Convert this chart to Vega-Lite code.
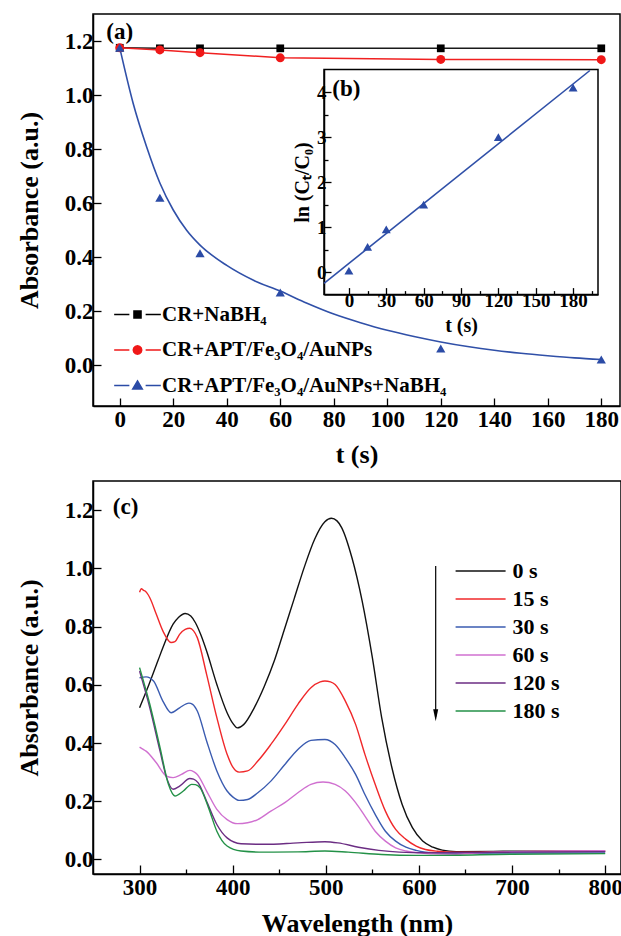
{
  "$schema": "https://vega.github.io/schema/vega-lite/v6.json",
  "padding": {"left": 15, "top": 13, "right": 0, "bottom": 0},
  "background": "white",
  "bounds": "flush",
  "spacing": 75,
  "resolve": {"legend": {"color": "independent", "fill": "independent", "stroke": "independent", "shape": "independent"}},
  "datasets": {
    "pointsA": [
      {"t": 0, "a": 1.175, "s": "k"}, {"t": 15, "a": 1.173, "s": "k"}, {"t": 30, "a": 1.173, "s": "k"}, {"t": 60, "a": 1.173, "s": "k"}, {"t": 120, "a": 1.173, "s": "k"}, {"t": 180, "a": 1.173, "s": "k"},
      {"t": 0, "a": 1.175, "s": "r"}, {"t": 15, "a": 1.167, "s": "r"}, {"t": 30, "a": 1.157, "s": "r"}, {"t": 60, "a": 1.138, "s": "r"}, {"t": 120, "a": 1.132, "s": "r"}, {"t": 180, "a": 1.131, "s": "r"},
      {"t": 0, "a": 1.175, "s": "b"}, {"t": 15, "a": 0.62, "s": "b"}, {"t": 30, "a": 0.415, "s": "b"}, {"t": 60, "a": 0.27, "s": "b"}, {"t": 120, "a": 0.063, "s": "b"}, {"t": 180, "a": 0.022, "s": "b"}
    ],
    "fitA": [
      {"t": 0, "a": 1.175}, {"t": 5, "a": 0.97}, {"t": 10, "a": 0.81}, {"t": 15, "a": 0.675}, {"t": 20, "a": 0.575}, {"t": 25, "a": 0.5}, {"t": 30, "a": 0.445}, {"t": 40, "a": 0.37}, {"t": 50, "a": 0.315}, {"t": 60, "a": 0.275}, {"t": 70, "a": 0.23}, {"t": 80, "a": 0.19}, {"t": 90, "a": 0.158}, {"t": 100, "a": 0.13}, {"t": 110, "a": 0.107}, {"t": 120, "a": 0.087}, {"t": 130, "a": 0.07}, {"t": 140, "a": 0.056}, {"t": 150, "a": 0.045}, {"t": 160, "a": 0.036}, {"t": 170, "a": 0.028}, {"t": 180, "a": 0.022}
    ],
    "insetPts": [
      {"t": 0, "l": 0.03}, {"t": 15, "l": 0.56}, {"t": 30, "l": 0.95}, {"t": 60, "l": 1.5}, {"t": 120, "l": 3.0}, {"t": 180, "l": 4.1}
    ],
    "insetFit": [
      {"t": -20, "l": -0.25}, {"t": 193.5, "l": 4.48}
    ],
    "spectra": [
      {"wl": 300, "a": 0.521, "time": "0 s"}, {"wl": 310, "a": 0.6, "time": "0 s"}, {"wl": 320, "a": 0.685, "time": "0 s"}, {"wl": 325, "a": 0.727, "time": "0 s"}, {"wl": 336, "a": 0.808, "time": "0 s"}, {"wl": 342, "a": 0.832, "time": "0 s"}, {"wl": 349, "a": 0.845, "time": "0 s"}, {"wl": 355, "a": 0.836, "time": "0 s"}, {"wl": 360, "a": 0.813, "time": "0 s"}, {"wl": 366, "a": 0.77, "time": "0 s"}, {"wl": 372, "a": 0.716, "time": "0 s"}, {"wl": 383, "a": 0.601, "time": "0 s"}, {"wl": 394, "a": 0.504, "time": "0 s"}, {"wl": 400, "a": 0.468, "time": "0 s"}, {"wl": 405, "a": 0.452, "time": "0 s"}, {"wl": 412, "a": 0.464, "time": "0 s"}, {"wl": 423, "a": 0.52, "time": "0 s"}, {"wl": 434, "a": 0.595, "time": "0 s"}, {"wl": 445, "a": 0.685, "time": "0 s"}, {"wl": 455, "a": 0.785, "time": "0 s"}, {"wl": 466, "a": 0.895, "time": "0 s"}, {"wl": 477, "a": 1.005, "time": "0 s"}, {"wl": 488, "a": 1.1, "time": "0 s"}, {"wl": 499, "a": 1.16, "time": "0 s"}, {"wl": 506, "a": 1.172, "time": "0 s"}, {"wl": 512, "a": 1.163, "time": "0 s"}, {"wl": 517, "a": 1.14, "time": "0 s"}, {"wl": 528, "a": 1.037, "time": "0 s"}, {"wl": 539, "a": 0.888, "time": "0 s"}, {"wl": 550, "a": 0.693, "time": "0 s"}, {"wl": 560, "a": 0.487, "time": "0 s"}, {"wl": 571, "a": 0.315, "time": "0 s"}, {"wl": 582, "a": 0.189, "time": "0 s"}, {"wl": 593, "a": 0.109, "time": "0 s"}, {"wl": 604, "a": 0.063, "time": "0 s"}, {"wl": 615, "a": 0.042, "time": "0 s"}, {"wl": 625, "a": 0.032, "time": "0 s"}, {"wl": 640, "a": 0.027, "time": "0 s"}, {"wl": 700, "a": 0.028, "time": "0 s"}, {"wl": 800, "a": 0.028, "time": "0 s"},
      {"wl": 300, "a": 0.918, "time": "15 s"}, {"wl": 302, "a": 0.93, "time": "15 s"}, {"wl": 304, "a": 0.925, "time": "15 s"}, {"wl": 306, "a": 0.922, "time": "15 s"}, {"wl": 311, "a": 0.899, "time": "15 s"}, {"wl": 318, "a": 0.842, "time": "15 s"}, {"wl": 325, "a": 0.785, "time": "15 s"}, {"wl": 334, "a": 0.745, "time": "15 s"}, {"wl": 338, "a": 0.748, "time": "15 s"}, {"wl": 343, "a": 0.773, "time": "15 s"}, {"wl": 349, "a": 0.79, "time": "15 s"}, {"wl": 354, "a": 0.794, "time": "15 s"}, {"wl": 358, "a": 0.785, "time": "15 s"}, {"wl": 362, "a": 0.762, "time": "15 s"}, {"wl": 372, "a": 0.636, "time": "15 s"}, {"wl": 383, "a": 0.487, "time": "15 s"}, {"wl": 394, "a": 0.361, "time": "15 s"}, {"wl": 400, "a": 0.318, "time": "15 s"}, {"wl": 407, "a": 0.3, "time": "15 s"}, {"wl": 416, "a": 0.304, "time": "15 s"}, {"wl": 427, "a": 0.338, "time": "15 s"}, {"wl": 441, "a": 0.395, "time": "15 s"}, {"wl": 456, "a": 0.464, "time": "15 s"}, {"wl": 470, "a": 0.533, "time": "15 s"}, {"wl": 484, "a": 0.59, "time": "15 s"}, {"wl": 494, "a": 0.61, "time": "15 s"}, {"wl": 499, "a": 0.613, "time": "15 s"}, {"wl": 505, "a": 0.61, "time": "15 s"}, {"wl": 510, "a": 0.601, "time": "15 s"}, {"wl": 521, "a": 0.544, "time": "15 s"}, {"wl": 532, "a": 0.464, "time": "15 s"}, {"wl": 542, "a": 0.361, "time": "15 s"}, {"wl": 553, "a": 0.258, "time": "15 s"}, {"wl": 564, "a": 0.166, "time": "15 s"}, {"wl": 575, "a": 0.103, "time": "15 s"}, {"wl": 586, "a": 0.069, "time": "15 s"}, {"wl": 597, "a": 0.046, "time": "15 s"}, {"wl": 607, "a": 0.034, "time": "15 s"}, {"wl": 620, "a": 0.028, "time": "15 s"}, {"wl": 640, "a": 0.025, "time": "15 s"}, {"wl": 700, "a": 0.027, "time": "15 s"}, {"wl": 800, "a": 0.028, "time": "15 s"},
      {"wl": 300, "a": 0.624, "time": "30 s"}, {"wl": 307, "a": 0.627, "time": "30 s"}, {"wl": 315, "a": 0.613, "time": "30 s"}, {"wl": 325, "a": 0.544, "time": "30 s"}, {"wl": 334, "a": 0.504, "time": "30 s"}, {"wl": 343, "a": 0.521, "time": "30 s"}, {"wl": 353, "a": 0.537, "time": "30 s"}, {"wl": 357, "a": 0.533, "time": "30 s"}, {"wl": 362, "a": 0.51, "time": "30 s"}, {"wl": 372, "a": 0.407, "time": "30 s"}, {"wl": 383, "a": 0.304, "time": "30 s"}, {"wl": 394, "a": 0.235, "time": "30 s"}, {"wl": 400, "a": 0.215, "time": "30 s"}, {"wl": 407, "a": 0.203, "time": "30 s"}, {"wl": 416, "a": 0.206, "time": "30 s"}, {"wl": 427, "a": 0.229, "time": "30 s"}, {"wl": 441, "a": 0.269, "time": "30 s"}, {"wl": 456, "a": 0.326, "time": "30 s"}, {"wl": 470, "a": 0.378, "time": "30 s"}, {"wl": 484, "a": 0.409, "time": "30 s"}, {"wl": 499, "a": 0.412, "time": "30 s"}, {"wl": 510, "a": 0.395, "time": "30 s"}, {"wl": 521, "a": 0.349, "time": "30 s"}, {"wl": 532, "a": 0.292, "time": "30 s"}, {"wl": 542, "a": 0.223, "time": "30 s"}, {"wl": 553, "a": 0.155, "time": "30 s"}, {"wl": 564, "a": 0.097, "time": "30 s"}, {"wl": 575, "a": 0.063, "time": "30 s"}, {"wl": 586, "a": 0.042, "time": "30 s"}, {"wl": 597, "a": 0.031, "time": "30 s"}, {"wl": 607, "a": 0.025, "time": "30 s"}, {"wl": 620, "a": 0.022, "time": "30 s"}, {"wl": 650, "a": 0.021, "time": "30 s"}, {"wl": 700, "a": 0.022, "time": "30 s"}, {"wl": 800, "a": 0.022, "time": "30 s"},
      {"wl": 300, "a": 0.386, "time": "60 s"}, {"wl": 303, "a": 0.38, "time": "60 s"}, {"wl": 307, "a": 0.372, "time": "60 s"}, {"wl": 318, "a": 0.332, "time": "60 s"}, {"wl": 329, "a": 0.286, "time": "60 s"}, {"wl": 336, "a": 0.281, "time": "60 s"}, {"wl": 345, "a": 0.292, "time": "60 s"}, {"wl": 354, "a": 0.306, "time": "60 s"}, {"wl": 358, "a": 0.302, "time": "60 s"}, {"wl": 362, "a": 0.292, "time": "60 s"}, {"wl": 372, "a": 0.235, "time": "60 s"}, {"wl": 383, "a": 0.172, "time": "60 s"}, {"wl": 394, "a": 0.137, "time": "60 s"}, {"wl": 405, "a": 0.123, "time": "60 s"}, {"wl": 416, "a": 0.126, "time": "60 s"}, {"wl": 427, "a": 0.137, "time": "60 s"}, {"wl": 441, "a": 0.166, "time": "60 s"}, {"wl": 456, "a": 0.195, "time": "60 s"}, {"wl": 470, "a": 0.229, "time": "60 s"}, {"wl": 484, "a": 0.258, "time": "60 s"}, {"wl": 497, "a": 0.266, "time": "60 s"}, {"wl": 510, "a": 0.258, "time": "60 s"}, {"wl": 521, "a": 0.235, "time": "60 s"}, {"wl": 532, "a": 0.195, "time": "60 s"}, {"wl": 542, "a": 0.149, "time": "60 s"}, {"wl": 553, "a": 0.097, "time": "60 s"}, {"wl": 564, "a": 0.063, "time": "60 s"}, {"wl": 575, "a": 0.04, "time": "60 s"}, {"wl": 586, "a": 0.029, "time": "60 s"}, {"wl": 600, "a": 0.023, "time": "60 s"}, {"wl": 615, "a": 0.019, "time": "60 s"}, {"wl": 640, "a": 0.018, "time": "60 s"}, {"wl": 660, "a": 0.022, "time": "60 s"}, {"wl": 700, "a": 0.027, "time": "60 s"}, {"wl": 750, "a": 0.029, "time": "60 s"}, {"wl": 800, "a": 0.03, "time": "60 s"},
      {"wl": 300, "a": 0.647, "time": "120 s"}, {"wl": 311, "a": 0.521, "time": "120 s"}, {"wl": 322, "a": 0.372, "time": "120 s"}, {"wl": 329, "a": 0.281, "time": "120 s"}, {"wl": 336, "a": 0.241, "time": "120 s"}, {"wl": 343, "a": 0.252, "time": "120 s"}, {"wl": 354, "a": 0.278, "time": "120 s"}, {"wl": 358, "a": 0.276, "time": "120 s"}, {"wl": 363, "a": 0.263, "time": "120 s"}, {"wl": 372, "a": 0.2, "time": "120 s"}, {"wl": 383, "a": 0.12, "time": "120 s"}, {"wl": 394, "a": 0.074, "time": "120 s"}, {"wl": 409, "a": 0.054, "time": "120 s"}, {"wl": 434, "a": 0.052, "time": "120 s"}, {"wl": 470, "a": 0.057, "time": "120 s"}, {"wl": 499, "a": 0.061, "time": "120 s"}, {"wl": 513, "a": 0.057, "time": "120 s"}, {"wl": 535, "a": 0.042, "time": "120 s"}, {"wl": 557, "a": 0.031, "time": "120 s"}, {"wl": 579, "a": 0.025, "time": "120 s"}, {"wl": 607, "a": 0.023, "time": "120 s"}, {"wl": 650, "a": 0.024, "time": "120 s"}, {"wl": 700, "a": 0.025, "time": "120 s"}, {"wl": 800, "a": 0.027, "time": "120 s"},
      {"wl": 300, "a": 0.659, "time": "180 s"}, {"wl": 311, "a": 0.533, "time": "180 s"}, {"wl": 322, "a": 0.384, "time": "180 s"}, {"wl": 331, "a": 0.258, "time": "180 s"}, {"wl": 338, "a": 0.218, "time": "180 s"}, {"wl": 347, "a": 0.235, "time": "180 s"}, {"wl": 356, "a": 0.258, "time": "180 s"}, {"wl": 360, "a": 0.257, "time": "180 s"}, {"wl": 365, "a": 0.246, "time": "180 s"}, {"wl": 374, "a": 0.178, "time": "180 s"}, {"wl": 383, "a": 0.097, "time": "180 s"}, {"wl": 394, "a": 0.046, "time": "180 s"}, {"wl": 409, "a": 0.029, "time": "180 s"}, {"wl": 434, "a": 0.025, "time": "180 s"}, {"wl": 470, "a": 0.026, "time": "180 s"}, {"wl": 499, "a": 0.029, "time": "180 s"}, {"wl": 524, "a": 0.025, "time": "180 s"}, {"wl": 560, "a": 0.017, "time": "180 s"}, {"wl": 597, "a": 0.014, "time": "180 s"}, {"wl": 615, "a": 0.014, "time": "180 s"}, {"wl": 700, "a": 0.018, "time": "180 s"}, {"wl": 800, "a": 0.02, "time": "180 s"}
    ]
  },
  "vconcat": [
    {
      "width": 527,
      "height": 392,
      "layer": [
        {
          "layer": [
            {
              "data": {"name": "pointsA"},
              "transform": [{"filter": "datum.s === 'k'"}],
              "mark": {"type": "line", "color": "#1a1a1a", "strokeWidth": 1.5},
              "encoding": {
                "x": {"field": "t", "type": "quantitative", "scale": {"domain": [-10, 187], "nice": false, "zero": false},
                  "axis": {"orient": "bottom", "values": [0, 10, 20, 30, 40, 50, 60, 70, 80, 90, 100, 110, 120, 130, 140, 150, 160, 170, 180],
                    "labelExpr": "datum.value % 20 === 0 ? datum.label : ''", "labelOverlap": false,
                    "tickSize": {"condition": {"test": "datum.value % 20 === 0", "value": -8}, "value": -5},
                    "labelPadding": 10, "title": "t (s)", "titlePadding": 10}},
                "y": {"field": "a", "type": "quantitative", "scale": {"domain": [-0.15, 1.3], "nice": false, "zero": false},
                  "axis": {"orient": "left", "values": [0, 0.1, 0.2, 0.3, 0.4, 0.5, 0.6, 0.7, 0.8, 0.9, 1.0, 1.1, 1.2],
                    "labelExpr": "round(datum.value * 10) % 2 === 0 ? format(datum.value, '.1f') : ''", "labelOverlap": false,
                    "tickSize": {"condition": {"test": "round(datum.value * 10) % 2 === 0", "value": -8}, "value": -5},
                    "labelPadding": 8, "title": "Absorbance (a.u.)", "titlePadding": 22}}
              }
            },
            {
              "data": {"name": "pointsA"},
              "transform": [{"filter": "datum.s === 'r'"}],
              "mark": {"type": "line", "color": "#f02020", "strokeWidth": 1.5},
              "encoding": {"x": {"field": "t", "type": "quantitative"}, "y": {"field": "a", "type": "quantitative"}}
            },
            {
              "data": {"name": "fitA"},
              "mark": {"type": "line", "color": "#3050a8", "strokeWidth": 1.6, "interpolate": "monotone"},
              "encoding": {"x": {"field": "t", "type": "quantitative"}, "y": {"field": "a", "type": "quantitative"}}
            },
            {
              "data": {"name": "pointsA"},
              "transform": [{"filter": "datum.s === 'k'"}],
              "mark": {"type": "point", "shape": "square", "filled": true, "color": "#000000", "size": 60, "opacity": 1},
              "encoding": {"x": {"field": "t", "type": "quantitative"}, "y": {"field": "a", "type": "quantitative"}}
            },
            {
              "data": {"name": "pointsA"},
              "transform": [{"filter": "datum.s === 'r'"}],
              "mark": {"type": "point", "shape": "circle", "filled": true, "color": "#f01818", "size": 80, "opacity": 1},
              "encoding": {"x": {"field": "t", "type": "quantitative"}, "y": {"field": "a", "type": "quantitative"}}
            },
            {
              "data": {"name": "pointsA"},
              "transform": [{"filter": "datum.s === 'b'"}],
              "mark": {"type": "point", "shape": "triangle-up", "filled": true, "color": "#2b4ba6", "size": 85, "opacity": 1},
              "encoding": {"x": {"field": "t", "type": "quantitative"}, "y": {"field": "a", "type": "quantitative"}}
            },
            {
              "data": {"name": "pointsA"},
              "transform": [{"filter": "false"}],
              "mark": {"type": "point", "filled": true, "opacity": 1},
              "encoding": {
                "x": {"field": "t", "type": "quantitative"},
                "y": {"field": "a", "type": "quantitative"},
                "fill": {"field": "s", "type": "nominal",
                  "scale": {"domain": ["CR+NaBH₄", "CR+APT/Fe₃O₄/AuNPs", "CR+APT/Fe₃O₄/AuNPs+NaBH₄"], "range": ["#000000", "#f01818", "#2b4ba6"]},
                  "legend": {"orient": "none", "legendX": 34, "legendY": 290, "title": null, "symbolSize": 50, "symbolStrokeWidth": 1.5, "labelFontSize": 21, "labelOffset": 14, "rowPadding": 13.5, "padding": 0}},
                "stroke": {"field": "s", "type": "nominal",
                  "scale": {"domain": ["CR+NaBH₄", "CR+APT/Fe₃O₄/AuNPs", "CR+APT/Fe₃O₄/AuNPs+NaBH₄"], "range": ["#000000", "#f01818", "#2b4ba6"]},
                  "legend": {"orient": "none", "legendX": 34, "legendY": 290, "title": null, "symbolSize": 50, "symbolStrokeWidth": 1.5, "labelFontSize": 21, "labelOffset": 14, "rowPadding": 13.5, "padding": 0}},
                "shape": {"field": "s", "type": "nominal",
                  "scale": {"domain": ["CR+NaBH₄", "CR+APT/Fe₃O₄/AuNPs", "CR+APT/Fe₃O₄/AuNPs+NaBH₄"],
                    "range": ["M-6.6,0L-2.3,0M2.3,0L6.6,0M-1,-1L1,-1L1,1L-1,1Z",
                              "M-6.6,0L-2.3,0M2.3,0L6.6,0M1.2,0L1.04,0.6L0.6,1.04L0,1.2L-0.6,1.04L-1.04,0.6L-1.2,0L-1.04,-0.6L-0.6,-1.04L0,-1.2L0.6,-1.04L1.04,-0.6Z",
                              "M-6.6,0L-2.3,0M2.3,0L6.6,0M0,-1.3L1.35,1L-1.35,1Z"]},
                  "legend": {"orient": "none", "legendX": 34, "legendY": 290, "title": null, "symbolSize": 50, "symbolStrokeWidth": 1.5, "labelFontSize": 21, "labelOffset": 14, "rowPadding": 13.5, "padding": 0}}
              }
            },
            {
              "data": {"values": [{"t": 0, "a": 1.235, "lab": "(a)"}]},
              "mark": {"type": "text", "font": "Liberation Serif", "fontWeight": "bold", "fontSize": 23, "align": "center", "baseline": "middle", "color": "#000000"},
              "encoding": {"x": {"field": "t", "type": "quantitative"}, "y": {"field": "a", "type": "quantitative"}, "text": {"field": "lab"}}
            }
          ]
        },
        {
          "layer": [
            {
              "data": {"values": [{"t1": -20, "t2": 200, "l1": -0.5, "l2": 4.5}]},
              "mark": {"type": "rect", "fill": "transparent", "stroke": "#000000", "strokeWidth": 1.5},
              "encoding": {
                "x": {"field": "t1", "type": "quantitative", "scale": {"domain": [-20, 200], "range": [231, 505], "nice": false, "zero": false},
                  "axis": {"orient": "bottom", "offset": -111.4, "values": [0, 15, 30, 45, 60, 75, 90, 105, 120, 135, 150, 165, 180, 195],
                    "labelExpr": "datum.value % 30 === 0 ? format(datum.value, 'd') : ''", "labelOverlap": false,
                    "tickSize": {"condition": {"test": "datum.value % 30 === 0", "value": -7}, "value": -4},
                    "labelFontSize": 19, "labelPadding": 4, "title": "t (s)", "titleFontSize": 20, "titlePadding": 2}},
                "x2": {"field": "t2"},
                "y": {"field": "l1", "type": "quantitative", "scale": {"domain": [-0.5, 4.5], "range": [280.6, 55.6], "nice": false, "zero": false},
                  "axis": {"orient": "left", "offset": -231, "values": [0, 0.5, 1, 1.5, 2, 2.5, 3, 3.5, 4],
                    "labelExpr": "datum.value % 1 === 0 ? format(datum.value, 'd') : ''", "labelOverlap": false,
                    "tickSize": {"condition": {"test": "datum.value % 1 === 0", "value": -7}, "value": -4},
                    "labelFontSize": 19, "labelPadding": 5, "title": "ln (Cₜ/C₀)", "titleFontSize": 20, "titlePadding": 4}},
                "y2": {"field": "l2"}
              }
            },
            {
              "data": {"name": "insetFit"},
              "mark": {"type": "line", "color": "#3050a8", "strokeWidth": 1.6},
              "encoding": {"x": {"field": "t", "type": "quantitative"}, "y": {"field": "l", "type": "quantitative"}}
            },
            {
              "data": {"name": "insetPts"},
              "mark": {"type": "point", "shape": "triangle-up", "filled": true, "color": "#2b4ba6", "size": 80, "opacity": 1},
              "encoding": {"x": {"field": "t", "type": "quantitative"}, "y": {"field": "l", "type": "quantitative"}}
            },
            {
              "data": {"values": [{"t": -2, "l": 4.06, "lab": "(b)"}]},
              "mark": {"type": "text", "font": "Liberation Serif", "fontWeight": "bold", "fontSize": 23, "align": "center", "baseline": "middle", "color": "#000000"},
              "encoding": {"x": {"field": "t", "type": "quantitative"}, "y": {"field": "l", "type": "quantitative"}, "text": {"field": "lab"}}
            }
          ]
        }
      ],
      "resolve": {"scale": {"x": "independent", "y": "independent"}, "axis": {"x": "independent", "y": "independent"}}
    },
    {
      "width": 528,
      "height": 393,
      "layer": [
        {
          "data": {"name": "spectra"},
          "mark": {"type": "line", "strokeWidth": 1.4, "interpolate": "monotone"},
          "encoding": {
            "x": {"field": "wl", "type": "quantitative", "scale": {"domain": [250, 817], "nice": false, "zero": false},
              "axis": {"orient": "bottom", "values": [300, 350, 400, 450, 500, 550, 600, 650, 700, 750, 800],
                "labelExpr": "datum.value % 100 === 0 ? datum.label : ''", "labelOverlap": false,
                "tickSize": {"condition": {"test": "datum.value % 100 === 0", "value": -9}, "value": -5},
                "labelPadding": 11, "title": "Wavelength (nm)", "titlePadding": 7}},
            "y": {"field": "a", "type": "quantitative", "scale": {"domain": [-0.05, 1.3], "nice": false, "zero": false},
              "axis": {"orient": "left", "values": [0, 0.1, 0.2, 0.3, 0.4, 0.5, 0.6, 0.7, 0.8, 0.9, 1.0, 1.1, 1.2],
                "labelExpr": "round(datum.value * 10) % 2 === 0 ? format(datum.value, '.1f') : ''", "labelOverlap": false,
                "tickSize": {"condition": {"test": "round(datum.value * 10) % 2 === 0", "value": -8}, "value": -5},
                "labelPadding": 8, "title": "Absorbance (a.u.)", "titlePadding": 22}},
            "color": {"field": "time", "type": "nominal",
              "scale": {"domain": ["0 s", "15 s", "30 s", "60 s", "120 s", "180 s"], "range": ["#111111", "#f0282a", "#3a5bb0", "#d070d0", "#6b2d83", "#239147"]},
              "legend": {"orient": "none", "legendX": 361.6, "legendY": 79, "title": null, "symbolType": "stroke", "symbolSize": 2500, "symbolStrokeWidth": 1.5, "labelFontSize": 22, "labelOffset": 6, "rowPadding": 6, "clipHeight": 22, "padding": 0}}
          }
        },
        {
          "data": {"values": [{"wl": 618, "a1": 1.008, "a2": 0.49}]},
          "mark": {"type": "rule", "color": "#000000", "strokeWidth": 1.2},
          "encoding": {"x": {"field": "wl", "type": "quantitative"}, "y": {"field": "a1", "type": "quantitative"}, "y2": {"field": "a2"}}
        },
        {
          "data": {"values": [{"wl": 618, "a": 0.475}]},
          "mark": {"type": "point", "shape": "M-1,-4.8L1,-4.8L0,0Z", "filled": true, "color": "#000000", "size": 25, "opacity": 1},
          "encoding": {"x": {"field": "wl", "type": "quantitative"}, "y": {"field": "a", "type": "quantitative"}}
        },
        {
          "data": {"values": [{"wl": 285, "a": 1.21, "lab": "(c)"}]},
          "mark": {"type": "text", "font": "Liberation Serif", "fontWeight": "bold", "fontSize": 23, "align": "center", "baseline": "middle", "color": "#000000"},
          "encoding": {"x": {"field": "wl", "type": "quantitative"}, "y": {"field": "a", "type": "quantitative"}, "text": {"field": "lab"}}
        }
      ]
    }
  ],
  "config": {
    "font": "Liberation Serif",
    "view": {"stroke": "#000000", "strokeWidth": 1.5},
    "axis": {
      "grid": false,
      "domainColor": "#000000", "domainWidth": 1.5,
      "tickColor": "#000000", "tickWidth": 1.3,
      "labelFont": "Liberation Serif", "labelFontWeight": "bold", "labelFontSize": 23, "labelColor": "#000000",
      "labelOverlap": false, "labelFlush": false,
      "titleFont": "Liberation Serif", "titleFontWeight": "bold", "titleFontSize": 26, "titleColor": "#000000"
    },
    "legend": {
      "labelFont": "Liberation Serif", "labelFontWeight": "bold", "labelColor": "#000000", "labelLimit": 0
    }
  }
}
